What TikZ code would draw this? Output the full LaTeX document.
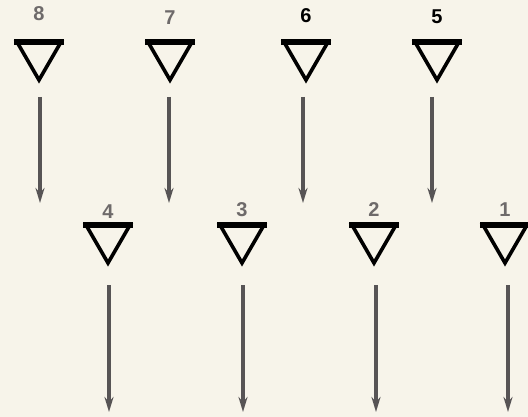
\documentclass[tikz,border=0pt]{standalone}
\usepackage{fontspec}
\setsansfont{Liberation Sans}
\usetikzlibrary{arrows.meta}
\definecolor{paper}{HTML}{F7F4EA}
\definecolor{ink}{HTML}{575455}
\definecolor{numgrey}{HTML}{6E6A6A}
\begin{document}
\begin{tikzpicture}[x=1pt,y=-1pt,line width=.6pt,
    tri/.style={line width=3.6pt,line join=miter},
    bar/.style={line width=6pt},
    flow/.style={ink,line width=3.2pt,-{Stealth[length=15pt,width=9pt]}},
    num/.style={font=\sffamily\bfseries\fontsize{20}{20}\selectfont}]
  \fill[paper] (0,0) rectangle (528,417);
  \useasboundingbox (0,0) rectangle (528,417);
  % upper row
  \foreach \n/\x/\ly/\ax/\c in {8/39/14/40/numgrey,7/170/18/169/numgrey,6/306/16/303/black,5/437/17/432/black} {
    \draw[tri] (\x-22,42)--(\x+22,42)--(\x,80)--cycle;
    \draw[bar] (\x-25,42)--(\x+25,42);
    \node[num,text=\c] (n\n) at (\x,\ly) {\n};
    \coordinate (s\n) at (\ax,97);
    \coordinate (e\n) at (\ax,203);
    \draw[flow] (s\n)--(e\n);
  }
  % lower row
  \foreach \n/\x/\ly/\ax in {4/108/212/109,3/242/210/243,2/374/210/376,1/505/210/508} {
    \draw[tri] (\x-22,225)--(\x+22,225)--(\x,263)--cycle;
    \draw[bar] (\x-25,225)--(\x+25,225);
    \node[num,text=numgrey] (n\n) at (\x,\ly) {\n};
    \coordinate (s\n) at (\ax,285);
    \coordinate (e\n) at (\ax,412);
    \draw[flow] (s\n)--(e\n);
  }
\end{tikzpicture}
\end{document}
